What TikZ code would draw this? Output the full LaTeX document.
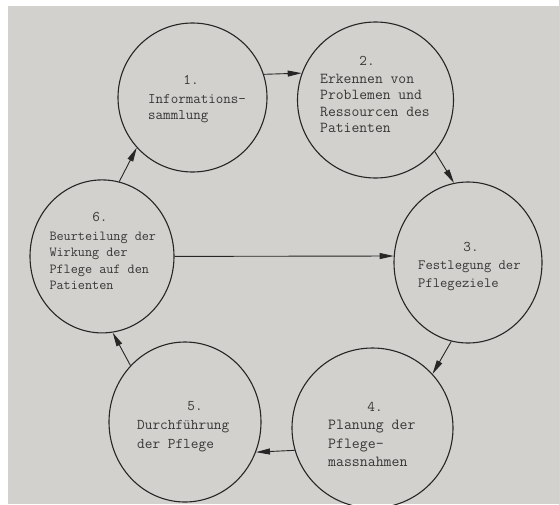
\documentclass[tikz,border=0pt]{standalone}
\usepackage{fontspec}
\usetikzlibrary{shapes.geometric,arrows.meta}
\definecolor{paper}{RGB}{210,209,206}
\definecolor{ink}{RGB}{38,38,38}
\definecolor{type}{RGB}{55,55,55}

\begin{document}
\begin{tikzpicture}[x=1pt,y=-1pt,
  ring/.style 2 args={ellipse, draw=ink, line width=1.1pt,
    minimum width=#1, minimum height=#2, inner sep=0pt},
  num/.style={text=type, anchor=base, inner sep=0pt,
    font=\ttfamily\fontsize{14.8}{16}\selectfont},
  body/.style 2 args={text=type, anchor=base west, inner sep=0pt,
    font=\ttfamily\fontsize{#1}{#2}\selectfont},
  flow/.style={draw=ink, line width=0.9pt, -{Triangle[length=14pt,width=6pt]}}
]
% page
\useasboundingbox (0,0) rectangle (559,504);
\fill[white] (0,0) rectangle (559,504);
\fill[paper] (8,6) rectangle (559,504);

% the six steps of the nursing process
\node[ring={149pt}{149pt}] (c1) at (192.5,97.5) {};
\node[ring={156pt}{156pt}] (c2) at (375.5,100) {};
\node[ring={148pt}{161pt}] (c3) at (468,262.5) {};
\node[ring={161pt}{160pt}] (c4) at (372.5,428) {};
\node[ring={152pt}{160pt}] (c5) at (185,422) {};
\node[ring={144pt}{153pt}] (c6) at (102,256.4) {};

% step numbers
\node[num] (n1) at (191,84) {1.};
\node[num] (n2) at (367,65) {2.};
\node[num] (n3) at (471,251) {3.};
\node[num] (n4) at (375,411) {4.};
\node[num] (n5) at (195,410) {5.};
\node[num] (n6) at (100,221.7) {6.};

% step descriptions
\node[body={14.6}{16.5}] (t1) at (148,103)
  {\begin{tabular}[t]{@{}l@{}}Informations-\\sammlung\end{tabular}};
\node[body={15.2}{16.4}] (t2) at (320,83.3)
  {\begin{tabular}[t]{@{}l@{}}Erkennen von\\Problemen und\\Ressourcen des\\Patienten\end{tabular}};
\node[body={14.2}{18}] (t3) at (418,269)
  {\begin{tabular}[t]{@{}l@{}}Festlegung der\\Pflegeziele\end{tabular}};
\node[body={15.4}{18.7}] (t4) at (328,429.5)
  {\begin{tabular}[t]{@{}l@{}}Planung der\\Pflege-\\massnahmen\end{tabular}};
\node[body={14.9}{18.5}] (t5) at (137,429.5)
  {\begin{tabular}[t]{@{}l@{}}Durchführung\\der Pflege\end{tabular}};
\node[body={13.8}{16.6}] (t6) at (49.3,240)
  {\begin{tabular}[t]{@{}l@{}}Beurteilung der\\Wirkung der\\Pflege auf den\\Patienten\end{tabular}};

% cycle
\draw[flow] (c1.18.4) -- (c2.160.6);
\draw[flow] (c2.-41.2) -- (c3.100.7);
\draw[flow] (c3.258.3) -- (c4.42.3);
\draw[flow] (c4.196.6) -- (c5.337.8);
\draw[flow] (c5.134) -- (c6.278.1);
\draw[flow] (c6.77.8) -- (c1.222.4);
% evaluation feeds back into goal setting
\draw[flow] (c6.0) -- (c3.175);
\end{tikzpicture}
\end{document}
